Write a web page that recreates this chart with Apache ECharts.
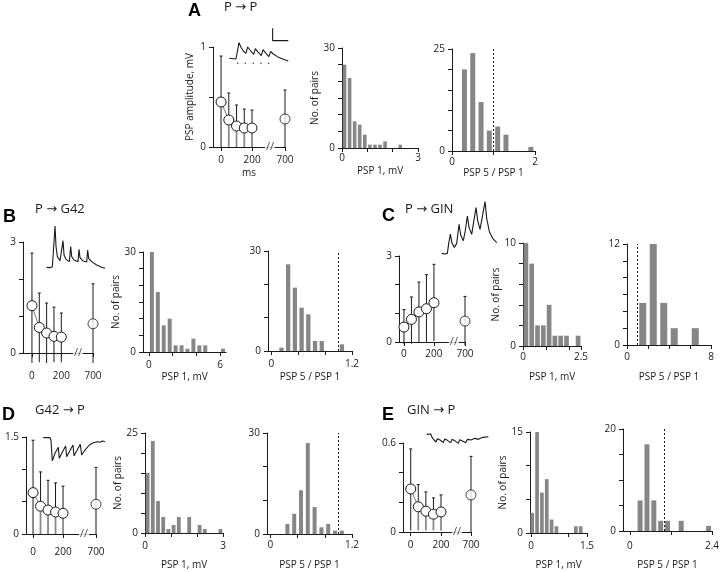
<!DOCTYPE html>
<html><head><meta charset="utf-8">
<script src="https://cdn.jsdelivr.net/npm/echarts@6/dist/echarts.min.js"></script>
<style>html,body{margin:0;padding:0;background:#fff}#c{width:720px;height:572px}</style>
</head><body><div id="c"></div>
<script>
// ---------- data ----------
const timesMs = [0, 50, 100, 150, 200, 700];

const A_mean = [0.45, 0.27, 0.21, 0.19, 0.19, 0.28];
const A_up   = [0.91, 0.54, 0.42, 0.38, 0.37, 0.57];
const A_lo   = [0, 0, 0, 0, 0, 0];
const B_mean = [1.28, 0.69, 0.54, 0.45, 0.43, 0.79];
const B_up   = [2.70, 1.62, 1.35, 1.24, 1.08, 1.87];
const B_lo   = [-0.27, -0.25, -0.27, -0.25, -0.25, -0.27];
const C_mean = [0.52, 0.79, 1.05, 1.16, 1.37, 0.73];
const C_up   = [1.13, 1.57, 2.09, 2.35, 2.71, 1.59];
const C_lo   = [-0.08, -0.06, -0.03, 0, 0.03, -0.12];
const D_mean = [0.64, 0.43, 0.37, 0.34, 0.32, 0.46];
const D_up   = [1.45, 0.96, 0.83, 0.79, 0.74, 1.03];
const D_lo   = [0, 0, 0, 0, 0, 0];
const E_mean = [0.29, 0.17, 0.14, 0.12, 0.135, 0.25];
const E_up   = [0.56, 0.32, 0.27, 0.23, 0.25, 0.51];
const E_lo   = [0.01, 0.01, 0.01, 0.01, 0.01, 0];

const A1_bins = [0.1, 0.3, 0.5, 0.7, 0.9, 1.1, 1.3, 1.5, 1.7, 2.3];
const A1_counts = [25, 21, 8, 7, 4, 1, 1, 1, 2, 1];
const A2_bins = [0.3, 0.5, 0.7, 0.9, 1.1, 1.3, 1.9];
const A2_counts = [20, 24, 12, 5, 6, 4, 1];
const B1_bins = [0.25, 0.75, 1.25, 1.75, 2.25, 2.75, 3.25, 3.75, 4.25, 4.75, 6.25];
const B1_counts = [30, 18, 8, 10, 2, 2, 1, 4, 2, 2, 1];
const B2_bins = [0.15, 0.25, 0.35, 0.45, 0.55, 0.65, 0.75, 1.05];
const B2_counts = [1, 26, 19, 13, 11, 3, 3, 2];
const C1_bins = [0.125, 0.375, 0.625, 0.875, 1.125, 1.375, 1.625, 1.875, 2.375];
const C1_counts = [10, 8, 2, 2, 4, 1, 1, 1, 1];
const C2_bins = [1.5, 2.5, 3.5, 4.5, 6.5];
const C2_counts = [5, 12, 5, 2, 2];
const D1_bins = [0.1, 0.3, 0.5, 0.7, 0.9, 1.1, 1.3, 1.7, 2.1, 2.3, 2.9];
const D1_counts = [15, 23, 8, 4, 1, 2, 4, 4, 2, 1, 1];
const D2_bins = [0.25, 0.35, 0.45, 0.55, 0.65, 0.75, 0.85, 0.95, 1.05];
const D2_counts = [3, 6, 13, 27, 8, 2, 3, 1, 1];
const E1_bins = [0.03, 0.16, 0.29, 0.42, 0.55, 0.68, 1.2, 1.33];
const E1_counts = [3, 15, 6, 8, 2, 1, 1, 1];
const E2_bins = [0.3, 0.5, 0.7, 0.9, 1.1, 1.5, 2.3];
const E2_counts = [6, 17, 6, 2, 2, 2, 1];

// tick label arrays
const A_yTicks = [0, 0.5, 1], A_yLabels = [0, 1];
const B_yTicks = [0, 1, 2, 3], B_yLabels = [0, 3];
const C_yTicks = [0, 1, 2, 3], C_yLabels = [0, 3];
const D_yTicks = [0, 0.5, 1, 1.5], D_yLabels = [0, 1.5];
const E_yTicks = [0, 0.2, 0.4, 0.6], E_yLabels = [0, 0.6];
const timeLabels = [0, 200, 700];

// voltage traces (time-like units, relative amplitude)
const trA_t = [0,20,25,29,35,42,50,55,62,73,78,85,96,101,108,119,124,132,144,160,177];
const trA_v = [20,18,45,67,53,42,35,54,45,32,49,40,28,46,37,25,41,33,25,18,12];
const stimA_t = [25,48,72,95,118];
const scaleA_t = [130,130,177], scaleA_v = [110,73,73];
const trB_t = [0,5,10,17,22,25,28,32,40,46,49,52,58,68,72,75,82,94,97,100,108,120,123,126,135,150,165,175];
const trB_v = [8,12,7,10,12,132,70,40,28,25,88,45,32,25,70,40,30,25,62,37,28,24,60,35,25,15,8,5];
const trC_t = [0,5,10,17,21,26,31,38,45,52,57,65,71,77,82,90,96,103,108,115,122,130,135,143,153,165];
const trC_v = [10,13,8,10,40,68,40,28,40,97,65,48,80,122,88,67,105,147,108,82,120,165,115,75,55,42];
const trD_t = [0,20,23,27,35,45,48,56,67,70,78,89,92,100,111,115,125,138,150,162,170,178,185];
const trD_v = [75,75,68,6,28,46,13,30,50,18,33,53,21,35,55,23,38,53,60,63,61,65,63];
const trE_t = [0,12,16,22,28,32,40,50,54,62,72,76,84,95,99,107,117,122,133,145,155,168,185];
const trE_v = [32,33,23,15,9,19,15,7,18,14,7,17,13,5,16,12,7,17,15,20,17,23,25];

// ---------- build ----------
const FONT = '"Open Sans", "DejaVu Sans", sans-serif';
const INK = '#1a1a1a';
const AXL = { show: true, onZero: false, lineStyle: { color: INK, width: 1 } };
const LBL = { fontSize: 10, color: INK, fontFamily: FONT };
const NTS = { fontSize: 10, color: INK, fontFamily: FONT };
const grids = [], xAxes = [], yAxes = [], series = [];

function fmt(v) { return String(Math.round(v * 1000) / 1000); }

function renderErr(params, api) {
  const x = api.value(0), lo = api.value(1), mid = api.value(2), hi = api.value(3), gray = api.value(4);
  const pT = api.coord([x, hi]), pM = api.coord([x, mid]), pL = api.coord([x, lo]);
  return { type: 'group', children: [
    { type: 'line', shape: { x1: pT[0], y1: pT[1], x2: pM[0], y2: pM[1] }, style: { stroke: INK, lineWidth: 1 } },
    { type: 'line', shape: { x1: pT[0] - 1.5, y1: pT[1], x2: pT[0] + 1.5, y2: pT[1] }, style: { stroke: INK, lineWidth: 1 } },
    { type: 'line', shape: { x1: pM[0], y1: pM[1], x2: pL[0], y2: pL[1] }, style: { stroke: gray ? '#8a8a8a' : INK, lineWidth: gray ? 1.8 : 1 } }
  ] };
}

function addLine(c) {
  const gi = grids.length;
  grids.push({ left: c.left, top: c.top, width: c.width, height: c.height, outerBoundsMode: 'none' });
  const pos = t => t === 700 ? c.pos700 : t;
  const tickPos = timeLabels.map(pos);
  xAxes.push({ gridIndex: gi, type: 'value', min: c.xmin, max: c.pos700, axisLine: AXL,
    axisTick: { show: true, length: 4, lineStyle: { color: INK }, customValues: tickPos },
    axisLabel: { ...LBL, margin: c.xm, customValues: tickPos, formatter: v => Math.abs(v - c.pos700) < 1e-6 ? '700' : fmt(v) },
    splitLine: { show: false }, name: c.xname || '', nameLocation: 'middle', nameGap: c.xng || 20, nameTextStyle: NTS });
  yAxes.push({ gridIndex: gi, type: 'value', min: 0, max: c.ymax, axisLine: AXL,
    axisTick: { show: true, length: 4, lineStyle: { color: INK }, customValues: c.yTicks },
    axisLabel: { ...LBL, margin: 7, customValues: c.yLabels, formatter: fmt },
    splitLine: { show: false }, name: c.yname || '', nameLocation: 'middle', nameGap: c.yng || 20, nameTextStyle: NTS });
  const xi = xAxes.length - 1, yi = yAxes.length - 1;
  series.push({ type: 'custom', xAxisIndex: xi, yAxisIndex: yi, clip: false, silent: true, z: 2,
    renderItem: renderErr, encode: { x: 0, y: [1, 2, 3] },
    data: timesMs.map((t, i) => [pos(t), c.lo[i], c.mean[i], c.up[i], (c.gray && i > 0 && i < 5) ? 1 : 0]) });
  series.push({ type: 'line', xAxisIndex: xi, yAxisIndex: yi, silent: true, z: 3,
    data: timesMs.slice(0, 5).map((t, i) => [pos(t), c.mean[i]]),
    symbol: 'circle', symbolSize: 10, showSymbol: true,
    lineStyle: { color: '#555', width: 0.8 }, itemStyle: { color: '#fff', borderColor: INK, borderWidth: 1 } });
  series.push({ type: 'scatter', xAxisIndex: xi, yAxisIndex: yi, silent: true, z: 3,
    data: [[pos(700), c.mean[5]]], symbol: 'circle', symbolSize: 10,
    itemStyle: { color: '#fff', borderColor: INK, borderWidth: 1 } });
  series.push({ type: 'scatter', xAxisIndex: xi, yAxisIndex: yi, silent: true, z: 4,
    data: [[c.breakPos, 0]], symbolSize: 1, itemStyle: { color: 'rgba(0,0,0,0)' },
    label: { show: true, formatter: '//', position: 'inside', fontSize: 11, color: INK, fontFamily: FONT, backgroundColor: '#fff', padding: [0, 1] } });
}

function addHist(c) {
  const gi = grids.length;
  grids.push({ left: c.left, top: c.top, width: c.width, height: c.height, outerBoundsMode: 'none' });
  xAxes.push({ gridIndex: gi, type: 'value', min: c.xmin, max: c.xmax, axisLine: AXL,
    axisTick: { show: true, length: 4, lineStyle: { color: INK }, customValues: c.xTicks },
    axisLabel: { ...LBL, margin: c.xm, customValues: c.xLabels, formatter: fmt },
    splitLine: { show: false }, name: c.xname, nameLocation: 'middle', nameGap: c.xng, nameTextStyle: NTS });
  yAxes.push({ gridIndex: gi, type: 'value', min: 0, max: c.ymax, axisLine: AXL,
    axisTick: { show: true, length: 4, lineStyle: { color: INK }, customValues: c.yTicks },
    axisLabel: { ...LBL, margin: 7, customValues: c.yLabels, formatter: fmt },
    splitLine: { show: false }, name: c.yname || '', nameLocation: 'middle', nameGap: c.yng || 10, nameTextStyle: NTS });
  const s = { type: 'bar', xAxisIndex: xAxes.length - 1, yAxisIndex: yAxes.length - 1, silent: true,
    data: c.bins.map((b, i) => [b, c.counts[i]]), barWidth: c.barW, itemStyle: { color: '#868686' } };
  if (c.dotted !== undefined) {
    s.markLine = { silent: true, symbol: 'none', label: { show: false },
      lineStyle: { type: [2, 2], color: INK, width: 1 }, data: [{ xAxis: c.dotted }] };
  }
  series.push(s);
}

function addTrace(c) {
  const gi = grids.length;
  grids.push({ left: c.left, top: c.top, width: c.width, height: c.height, outerBoundsMode: 'none' });
  xAxes.push({ gridIndex: gi, type: 'value', min: 0, max: c.xmax, show: false });
  yAxes.push({ gridIndex: gi, type: 'value', min: 0, max: c.ymax, show: false });
  const xi = xAxes.length - 1, yi = yAxes.length - 1;
  series.push({ type: 'line', xAxisIndex: xi, yAxisIndex: yi, silent: true, showSymbol: false, symbol: 'none',
    data: c.t.map((t, i) => [t, c.v[i]]), lineStyle: { color: INK, width: 1.1 } });
  return [xi, yi];
}

// Panel A
addLine({ left: 213, top: 47, width: 72, height: 100, xmin: -52, pos700: 413, breakPos: 316, ymax: 1,
  yTicks: A_yTicks, yLabels: A_yLabels, mean: A_mean, up: A_up, lo: A_lo, gray: true, xm: 8,
  xname: 'ms', xng: 21, yname: 'PSP amplitude, mV', yng: 18 });
addHist({ left: 342, top: 48, width: 76, height: 100, xmin: 0, xmax: 3, xTicks: [0, 1, 2, 3], xLabels: [0, 3],
  ymax: 30, yTicks: [0, 5, 10, 15, 20, 25, 30], yLabels: [0, 30], bins: A1_bins, counts: A1_counts, barW: 3.6,
  xm: 5, xname: 'PSP 1, mV', xng: 18, yname: 'No. of pairs', yng: 12 });
addHist({ left: 452, top: 49, width: 83, height: 102, xmin: 0, xmax: 2, xTicks: [0, 1, 2], xLabels: [0, 2],
  ymax: 25, yTicks: [0, 5, 10, 15, 20, 25], yLabels: [0, 25], bins: A2_bins, counts: A2_counts, barW: 5,
  xm: 6, xname: 'PSP 5 / PSP 1', xng: 15, dotted: 1 });
const [ax, ay] = addTrace({ left: 229.3, top: 28.3, width: 59, height: 36.7, xmax: 177, ymax: 110, t: trA_t, v: trA_v });
series.push({ type: 'line', xAxisIndex: ax, yAxisIndex: ay, silent: true, symbol: 'none',
  data: scaleA_t.map((t, i) => [t, scaleA_v[i]]), lineStyle: { color: INK, width: 1.1 } });
series.push({ type: 'scatter', xAxisIndex: ax, yAxisIndex: ay, silent: true, symbolSize: 1.6,
  data: stimA_t.map(t => [t, 5]), itemStyle: { color: INK } });

// Panel B
addLine({ left: 23, top: 242, width: 70, height: 111, xmin: -61, pos700: 416, breakPos: 314, ymax: 3,
  yTicks: B_yTicks, yLabels: B_yLabels, mean: B_mean, up: B_up, lo: B_lo, gray: false, xm: 18 });
addHist({ left: 143, top: 252, width: 83, height: 100, xmin: -0.5, xmax: 6.5, xTicks: [0, 2, 4, 6], xLabels: [0, 6],
  ymax: 30, yTicks: [0, 5, 10, 15, 20, 25, 30], yLabels: [0, 30], bins: B1_bins, counts: B1_counts, barW: 4,
  xm: 8, xname: 'PSP 1, mV', xng: 20, yname: 'No. of pairs', yng: 8 });
addHist({ left: 268, top: 251, width: 84, height: 100, xmin: -0.05, xmax: 1.2, xTicks: [0, 0.4, 0.8, 1.2], xLabels: [0, 1.2],
  ymax: 30, yTicks: [0, 10, 20, 30], yLabels: [0, 30], bins: B2_bins, counts: B2_counts, barW: 4.3,
  xm: 8, xname: 'PSP 5 / PSP 1', xng: 21, dotted: 1 });
addTrace({ left: 46.7, top: 225, width: 58.3, height: 45, xmax: 175, ymax: 135, t: trB_t, v: trB_v });

// Panel C
addLine({ left: 399, top: 256, width: 66, height: 86, xmin: -33, pos700: 407, breakPos: 333, ymax: 3,
  yTicks: C_yTicks, yLabels: C_yLabels, mean: C_mean, up: C_up, lo: C_lo, gray: false, xm: 7 });
addHist({ left: 523, top: 243, width: 58, height: 103, xmin: 0, xmax: 2.5, xTicks: [0, 1, 2, 2.5], xLabels: [0, 2.5],
  ymax: 10, yTicks: [0, 2, 4, 6, 8, 10], yLabels: [0, 10], bins: C1_bins, counts: C1_counts, barW: 4.7,
  xm: 6, xname: 'PSP 1, mV', xng: 26, yname: 'No. of pairs', yng: 15 });
addHist({ left: 627, top: 244, width: 84, height: 101, xmin: 0, xmax: 8, xTicks: [0, 2, 4, 6, 8], xLabels: [0, 8],
  ymax: 12, yTicks: [0, 2, 4, 6, 8, 10, 12], yLabels: [0, 12], bins: C2_bins, counts: C2_counts, barW: 7,
  xm: 7, xname: 'PSP 5 / PSP 1', xng: 27, dotted: 1 });
addTrace({ left: 441.7, top: 200, width: 55, height: 56.7, xmax: 165, ymax: 170, t: trC_t, v: trC_v });

// Panel D
addLine({ left: 26, top: 437, width: 70, height: 97, xmin: -47, pos700: 420, breakPos: 340, ymax: 1.5,
  yTicks: D_yTicks, yLabels: D_yLabels, mean: D_mean, up: D_up, lo: D_lo, gray: true, xm: 13 });
addHist({ left: 145, top: 433, width: 78, height: 100, xmin: 0, xmax: 3, xTicks: [0, 1, 2, 3], xLabels: [0, 3],
  ymax: 25, yTicks: [0, 5, 10, 15, 20, 25], yLabels: [0, 25], bins: D1_bins, counts: D1_counts, barW: 3.8,
  xm: 8, xname: 'PSP 1, mV', xng: 27, yname: 'No. of pairs', yng: 6 });
addHist({ left: 267, top: 433, width: 85, height: 101, xmin: -0.05, xmax: 1.2, xTicks: [0, 0.4, 0.8, 1.2], xLabels: [0, 1.2],
  ymax: 30, yTicks: [0, 10, 20, 30], yLabels: [0, 30], bins: D2_bins, counts: D2_counts, barW: 4,
  xm: 6, xname: 'PSP 5 / PSP 1', xng: 26, dotted: 1 });
addTrace({ left: 43.3, top: 436, width: 61.7, height: 26.7, xmax: 185, ymax: 80, t: trD_t, v: trD_v });

// Panel E
addLine({ left: 403, top: 443, width: 68, height: 89, xmin: -51, pos700: 398, breakPos: 305, ymax: 0.6,
  yTicks: E_yTicks, yLabels: E_yLabels, mean: E_mean, up: E_up, lo: E_lo, gray: true, xm: 8 });
addHist({ left: 530, top: 432, width: 57, height: 101, xmin: -0.03, xmax: 1.5, xTicks: [0, 1, 1.5], xLabels: [0, 1.5],
  ymax: 15, yTicks: [0, 5, 10, 15], yLabels: [0, 15], bins: E1_bins, counts: E1_counts, barW: 3.7,
  xm: 8, xname: 'PSP 1, mV', xng: 27, yname: 'No. of pairs', yng: 17 });
addHist({ left: 623, top: 429, width: 89, height: 102, xmin: -0.2, xmax: 2.4, xTicks: [0, 1.2, 2.4], xLabels: [0, 2.4],
  ymax: 20, yTicks: [0, 5, 10, 15, 20], yLabels: [0, 20], bins: E2_bins, counts: E2_counts, barW: 5,
  xm: 10, xname: 'PSP 5 / PSP 1', xng: 29, dotted: 1 });
addTrace({ left: 426.7, top: 432.7, width: 61.7, height: 12.3, xmax: 185, ymax: 37, t: trE_t, v: trE_v });

// titles
const letterStyle = { fontFamily: '"Liberation Sans", Arial, sans-serif', fontWeight: 'bold', fontSize: 18, color: '#000' };
const subStyle = { fontFamily: FONT, fontWeight: 'normal', fontSize: 13, color: INK };
const titles = [
  ['A', 188, 2, letterStyle], ['P → P', 224, 1, subStyle],
  ['B', 3, 208, letterStyle], ['P → G42', 35, 203, subStyle],
  ['C', 382, 207, letterStyle], ['P → GIN', 405, 203, subStyle],
  ['D', 2, 406, letterStyle], ['G42 → P', 35, 404, subStyle],
  ['E', 382, 406, letterStyle], ['GIN → P', 407, 404, subStyle]
].map(([text, left, top, ts]) => ({ text, left, top, padding: 0, textStyle: ts }));

const chart = echarts.init(document.getElementById('c'), null, { renderer: 'canvas' });
chart.setOption({
  animation: false,
  backgroundColor: '#fff',
  title: titles,
  grid: grids, xAxis: xAxes, yAxis: yAxes, series: series
});
</script></body></html>
